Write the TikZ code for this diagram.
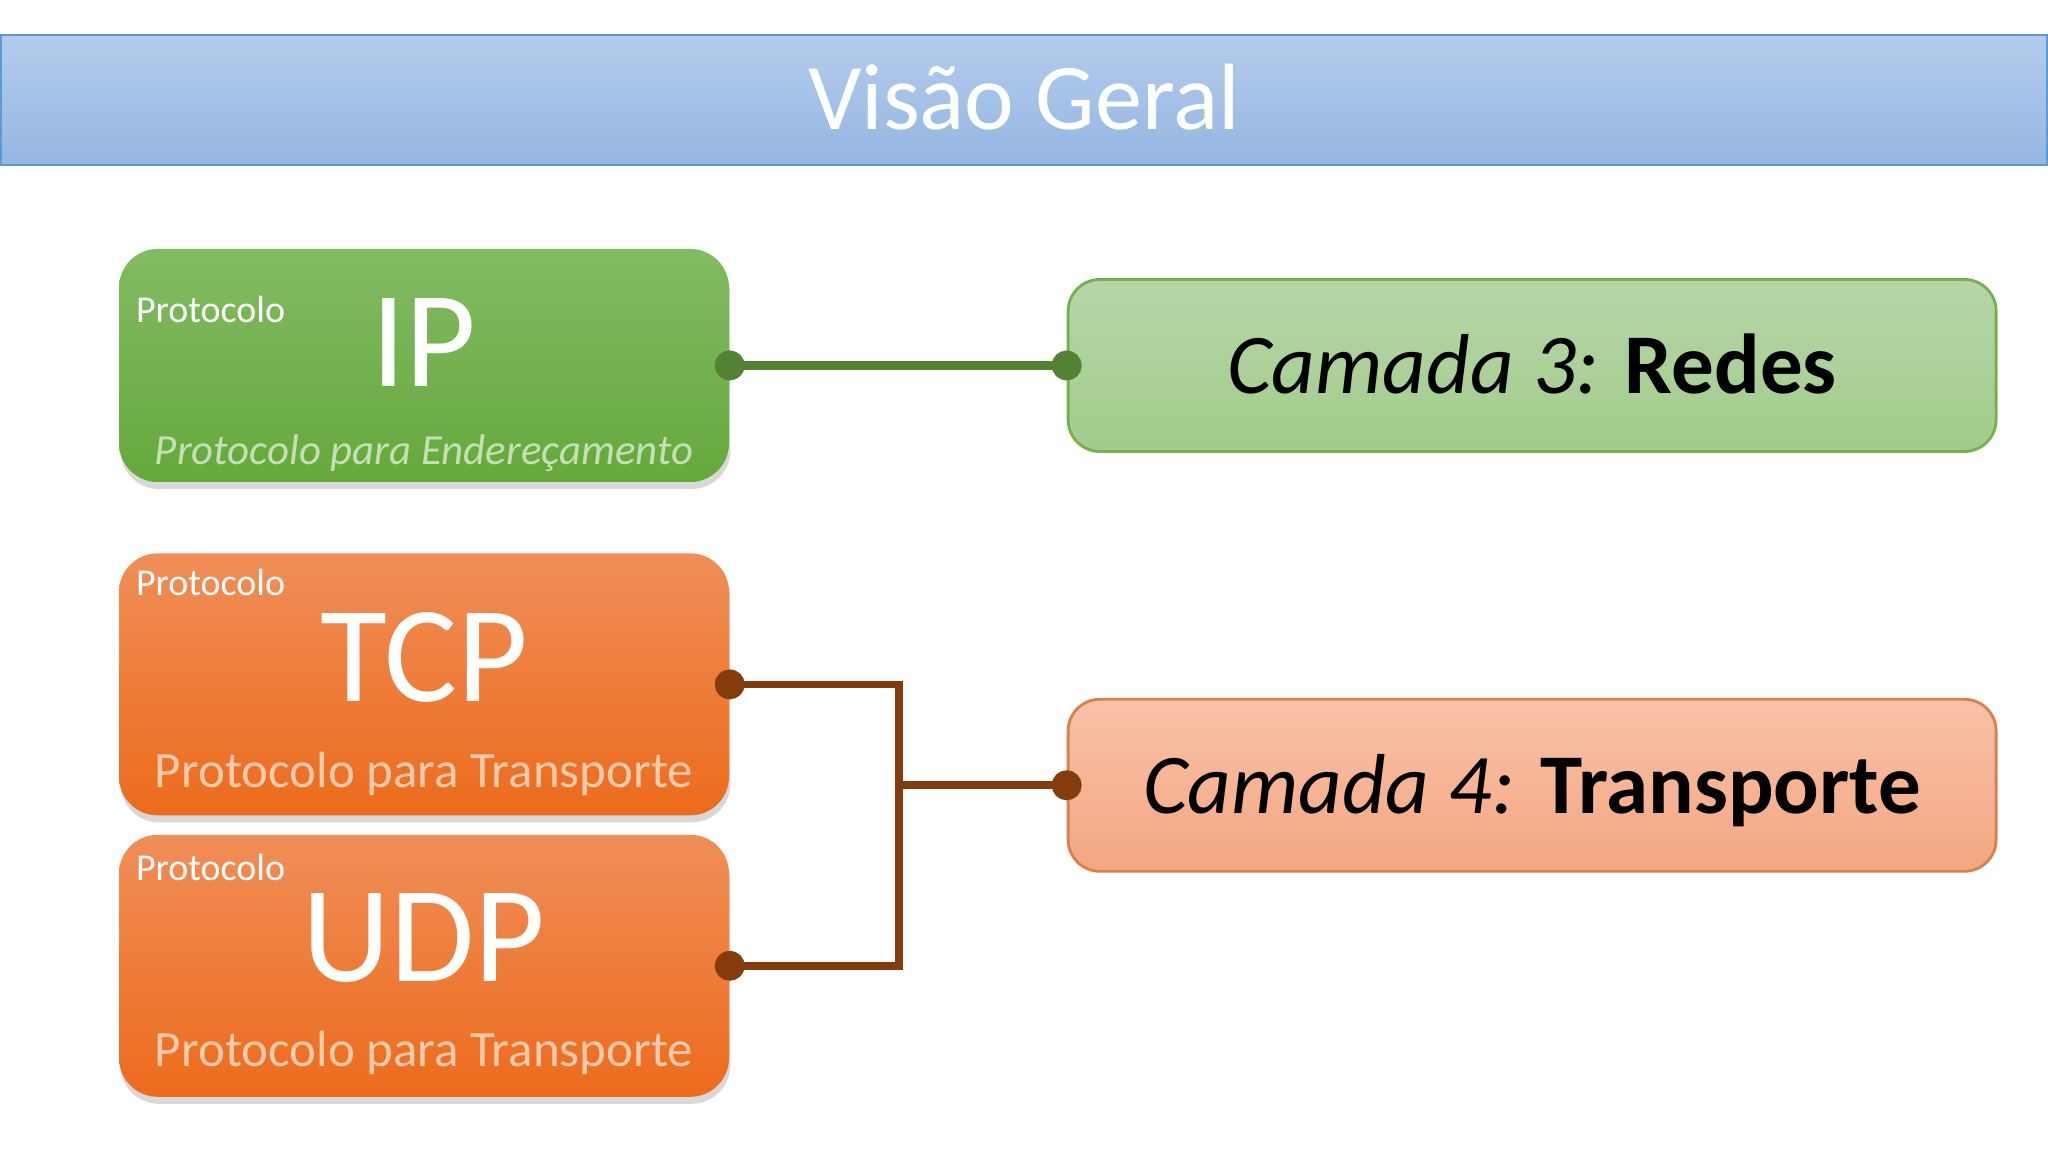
\documentclass[tikz,border=0pt]{standalone}
\usepackage{fontspec}
\setmainfont{Carlito}
\usepackage{xcolor}
\usetikzlibrary{arrows.meta, positioning, shadows, calc}
\definecolor{ipgreen}{HTML}{82BB63}
\definecolor{ipgreendark}{HTML}{66A83C}
\definecolor{protoorange}{HTML}{F08E58}
\definecolor{protoorangedark}{HTML}{EC6B1C}
\definecolor{subgreen}{HTML}{C5E0B4}
\definecolor{suborange}{HTML}{F8CBAD}
\definecolor{layergreen}{HTML}{B6D7A8}
\definecolor{layergreendark}{HTML}{A2CB8B}
\definecolor{layerorange}{HTML}{F8C2A8}
\definecolor{layerorangedark}{HTML}{F4A681}
\definecolor{titleblue}{HTML}{B4CCEB}
\definecolor{titlebluedark}{HTML}{95B6E2}
\definecolor{titleborder}{HTML}{5B9BD5}
\definecolor{netline}{HTML}{548235}
\definecolor{transline}{HTML}{843C0C}

\begin{document}
\begin{tikzpicture}[
    protobox/.style={rectangle, rounded corners=11pt, minimum width=6.1cm, draw=none,
        drop shadow={shadow xshift=0.4pt, shadow yshift=-2pt, opacity=0.3}},
    ipbox/.style={protobox, minimum height=2.33cm, top color=ipgreen, bottom color=ipgreendark},
    tpbox/.style={protobox, minimum height=2.62cm, top color=protoorange, bottom color=protoorangedark},
    layerbox/.style={rectangle, rounded corners=9pt, minimum width=9.28cm, minimum height=1.72cm,
        line width=0.8pt, font=\fontsize{24.2}{28}\selectfont, text height=0.57cm, text depth=0cm},
    tag/.style={anchor=base west, text=white, font=\fontsize{10.8}{12}\selectfont, inner sep=0pt},
    bigname/.style={anchor=base, text=white, font=\fontsize{39}{44}\selectfont, inner sep=0pt},
    subtitle/.style={anchor=base, inner sep=0pt},
    netlink/.style={netline, line width=2.6pt, {Circle[length=8.5pt]}-{Circle[length=8.5pt]},
        shorten <=-4.25pt, shorten >=-4.25pt},
    translink/.style={transline, line width=2.2pt, line join=miter}
]
    \useasboundingbox (0,0) rectangle (20.48,11.52);
    \fill[white] (0,0) rectangle (20.48,11.52);

    \node[rectangle, minimum width=20.46cm, minimum height=1.3cm, draw=titleborder, line width=0.8pt,
        top color=titleblue, bottom color=titlebluedark, text=white,
        font=\fontsize{26.8}{30}\selectfont, text height=0.6cm, text depth=0cm] (title) at (10.24,10.52) {Visão Geral};

    \node[ipbox] (ip) at (4.24,7.865) {};
    \node[tpbox, below=0.7cm of ip] (tcp) {};
    \node[tpbox, below=0.18cm of tcp] (udp) {};

    \node[layerbox, right=3.37cm of ip, draw=ipgreendark!90, top color=layergreen, bottom color=layergreendark]
        (redes) {\textit{Camada 3:} \textbf{Redes}};
    \node[layerbox, below=2.45cm of redes, draw=protoorange!90!black, top color=layerorange, bottom color=layerorangedark]
        (transp) {\textit{Camada 4:} \textbf{Transporte}};

    \node[tag] (iptag) at ($(ip.north west)+(0.17,-0.74)$) {Protocolo};
    \node[tag] (tcptag) at ($(tcp.north west)+(0.17,-0.43)$) {Protocolo};
    \node[tag] (udptag) at ($(udp.north west)+(0.17,-0.46)$) {Protocolo};

    \node[bigname] (ipname) at ($(ip.north)+(0,-1.38)$) {IP};
    \node[bigname] (tcpname) at ($(tcp.north)+(0,-1.49)$) {TCP};
    \node[bigname] (udpname) at ($(udp.north)+(0,-1.47)$) {UDP};

    \node[subtitle, text=subgreen, font=\fontsize{12.2}{14}\selectfont\itshape] (ipsub)
        at ($(ip.south)+(0,0.18)$) {Protocolo para Endereçamento};
    \node[subtitle, text=suborange, font=\fontsize{14.5}{16}\selectfont] (tcpsub)
        at ($(tcp.south)+(0,0.29)$) {Protocolo para Transporte};
    \node[subtitle, text=suborange, font=\fontsize{14.5}{16}\selectfont] (udpsub)
        at ($(udp.south)+(0,0.31)$) {Protocolo para Transporte};

    \coordinate (bus) at (8.99,0 |- transp.west);

    \draw[netlink] (ip.east) -- (redes.west);
    \draw[translink, {Circle[length=8.5pt]}-{Circle[length=8.5pt]}, shorten <=-4.25pt, shorten >=-4.25pt]
        (tcp.east) -| (bus) |- (udp.east);
    \draw[translink, -{Circle[length=8.5pt]}, shorten >=-4.25pt] (bus) -- (transp.west);
\end{tikzpicture}
\end{document}
